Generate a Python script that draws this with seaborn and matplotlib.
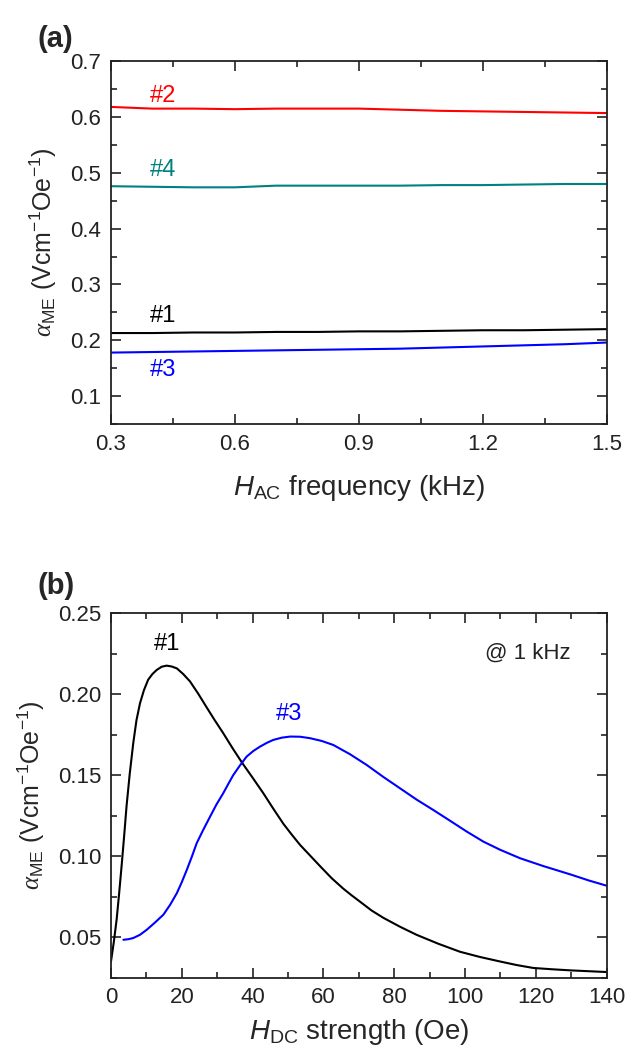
import numpy as np
import pandas as pd
import matplotlib
matplotlib.use('Agg')
import matplotlib.pyplot as plt
from matplotlib.ticker import MultipleLocator
import seaborn as sns

# ---- panel (a): alpha_ME vs H_AC frequency ----
freq = [0.3, 0.4, 0.5, 0.6, 0.7, 0.8, 0.9, 1.0, 1.1, 1.2, 1.3, 1.4, 1.5]
s2 = [0.618, 0.615, 0.615, 0.614, 0.615, 0.615, 0.615, 0.613, 0.611, 0.610, 0.609, 0.608, 0.607]
s4 = [0.476, 0.475, 0.474, 0.474, 0.477, 0.477, 0.477, 0.477, 0.478, 0.478, 0.479, 0.480, 0.480]
s1 = [0.213, 0.213, 0.214, 0.214, 0.215, 0.215, 0.216, 0.216, 0.217, 0.218, 0.218, 0.219, 0.220]
s3 = [0.178, 0.179, 0.180, 0.181, 0.182, 0.183, 0.184, 0.185, 0.187, 0.189, 0.191, 0.193, 0.196]

# ---- panel (b): alpha_ME vs H_DC strength at 1 kHz ----
hdc1 = [0, 0.8, 1.6, 2.3, 3.0, 3.7, 4.4, 5.3, 6.3, 7.2, 8.2, 9.3, 10.5, 11.7, 12.9, 14.3,
        15.7, 17.1, 18.6, 20.4, 22.3, 24.6, 27.0, 29.3, 31.7, 34.4, 37.1, 40.0, 43.0, 45.8,
        48.7, 51.0, 53.4, 56.2, 59.0, 62.3, 65.6, 68.0, 70.3, 73.6, 76.9, 81.6, 86.3, 92.4,
        98.6, 104.2, 109.9, 114.6, 119.3, 124.6, 130.0, 135.0, 140.0]
a1 = [0.035, 0.047, 0.061, 0.077, 0.094, 0.112, 0.131, 0.151, 0.170, 0.184, 0.1945, 0.2025,
      0.209, 0.2125, 0.215, 0.217, 0.2177, 0.2172, 0.216, 0.2125, 0.208, 0.2005, 0.192,
      0.184, 0.176, 0.1665, 0.1575, 0.1485, 0.139, 0.1295, 0.120, 0.1135, 0.107, 0.1005,
      0.094, 0.0865, 0.080, 0.0758, 0.072, 0.0665, 0.062, 0.0565, 0.0515, 0.046, 0.041,
      0.0378, 0.035, 0.0328, 0.031, 0.0302, 0.0295, 0.029, 0.0285]
hdc3 = [3.5, 5.0, 6.3, 8.2, 10.1, 12.4, 14.8, 16.7, 18.6, 20.0, 21.4, 22.8, 24.2, 26.1,
        28.0, 29.8, 31.7, 33.1, 34.5, 36.4, 38.3, 40.2, 42.1, 44.0, 45.8, 48.2, 50.6, 53.4,
        56.2, 59.5, 62.8, 67.5, 72.2, 76.9, 81.6, 86.3, 91.0, 95.7, 100.5, 105.2, 109.9,
        115.5, 122.0, 130.0, 135.0, 140.0]
a3 = [0.0484, 0.0488, 0.0495, 0.0515, 0.0546, 0.059, 0.0639, 0.070, 0.0772, 0.084, 0.0915,
      0.0995, 0.108, 0.1165, 0.1245, 0.132, 0.1389, 0.1445, 0.150, 0.156, 0.1615, 0.165,
      0.1677, 0.170, 0.1718, 0.1732, 0.1739, 0.1738, 0.1729, 0.1712, 0.1687, 0.163, 0.1564,
      0.149, 0.142, 0.135, 0.1286, 0.122, 0.1152, 0.109, 0.104, 0.0988, 0.094, 0.0886,
      0.085, 0.0818]

sns.set_style('ticks')
plt.rcParams['font.family'] = ['Liberation Sans', 'DejaVu Sans']
plt.rcParams['mathtext.fontset'] = 'custom'
plt.rcParams['mathtext.rm'] = 'Liberation Sans'
plt.rcParams['mathtext.it'] = 'Liberation Sans:italic'
plt.rcParams['mathtext.bf'] = 'Liberation Sans:bold'
# serif italic for the alpha symbol
plt.rcParams['mathtext.sf'] = 'Liberation Serif:italic'

df_a = pd.DataFrame({
    'freq': freq * 4,
    'alpha': s1 + s2 + s3 + s4,
    'sample': ['#1'] * 13 + ['#2'] * 13 + ['#3'] * 13 + ['#4'] * 13,
})
df_b = pd.DataFrame({
    'hdc': hdc1 + hdc3,
    'alpha': a1 + a3,
    'sample': ['#1'] * len(hdc1) + ['#3'] * len(hdc3),
})
colors = {'#1': 'black', '#2': '#ff0000', '#3': '#0000ff', '#4': '#008080'}

fig = plt.figure(figsize=(6.27, 10.58), dpi=100)
ax1 = fig.add_axes([0.177, 0.5992, 0.7906, 0.343])
ax2 = fig.add_axes([0.177, 0.0759, 0.7906, 0.3444])

sns.lineplot(data=df_a, x='freq', y='alpha', hue='sample', palette=colors,
             linewidth=1.5, legend=False, ax=ax1)
sns.lineplot(data=df_b, x='hdc', y='alpha', hue='sample', palette=colors,
             linewidth=1.5, legend=False, ax=ax2, sort=False)

ylab = r'$\mathsf{\alpha}_{\mathrm{ME}}$ (Vcm$^{-1}$Oe$^{-1}$)'

ax1.set_xlim(0.3, 1.5)
ax1.set_ylim(0.05, 0.7)
ax1.xaxis.set_minor_locator(MultipleLocator(0.15))
ax1.yaxis.set_minor_locator(MultipleLocator(0.05))
ax1.set_yticks([0.1, 0.2, 0.3, 0.4, 0.5, 0.6, 0.7])
ax1.set_xticks([0.3, 0.6, 0.9, 1.2, 1.5])
ax1.set_xticklabels(['0.3', '0.6', '0.9', '1.2', '1.5'])
ax1.set_xlabel(r'$H_{\mathrm{AC}}$ frequency (kHz)', fontsize=20, labelpad=13)
ax1.set_ylabel(ylab, fontsize=18, labelpad=8)

ax2.set_xlim(0, 140)
ax2.set_ylim(0.025, 0.25)
ax2.xaxis.set_major_locator(MultipleLocator(20))
ax2.xaxis.set_minor_locator(MultipleLocator(10))
ax2.set_yticks([0.05, 0.10, 0.15, 0.20, 0.25])
ax2.set_yticklabels(['0.05', '0.10', '0.15', '0.20', '0.25'])
ax2.yaxis.set_minor_locator(MultipleLocator(0.025))
ax2.set_xlabel(r'$H_{\mathrm{DC}}$ strength (Oe)', fontsize=20, labelpad=6)
ax2.set_ylabel(ylab, fontsize=18, labelpad=8)

for ax in (ax1, ax2):
    ax.tick_params(which='both', direction='in', top=True, right=True, width=1.2,
                   labelsize=16, colors='#222222')
    ax.tick_params(which='major', length=7, pad=7)
    ax.tick_params(which='minor', length=4)
    for sp in ax.spines.values():
        sp.set_linewidth(1.3)
        sp.set_color('#222222')

# sample labels
ax1.text(0.425, 0.637, '#2', color=colors['#2'], fontsize=17, ha='center', va='center')
ax1.text(0.425, 0.505, '#4', color=colors['#4'], fontsize=17, ha='center', va='center')
ax1.text(0.425, 0.243, '#1', color=colors['#1'], fontsize=17, ha='center', va='center')
ax1.text(0.425, 0.146, '#3', color=colors['#3'], fontsize=17, ha='center', va='center')

ax2.text(15.9, 0.231, '#1', color=colors['#1'], fontsize=17, ha='center', va='center')
ax2.text(50.4, 0.188, '#3', color=colors['#3'], fontsize=17, ha='center', va='center')
ax2.text(105.6, 0.2255, '@ 1 kHz', color='#222222', fontsize=16, ha='left', va='center')

fig.text(0.06, 0.963, '(a)', fontsize=21, fontweight='bold', va='center', ha='left')
fig.text(0.06, 0.446, '(b)', fontsize=21, fontweight='bold', va='center', ha='left')

fig.savefig('out.png', dpi=100)
